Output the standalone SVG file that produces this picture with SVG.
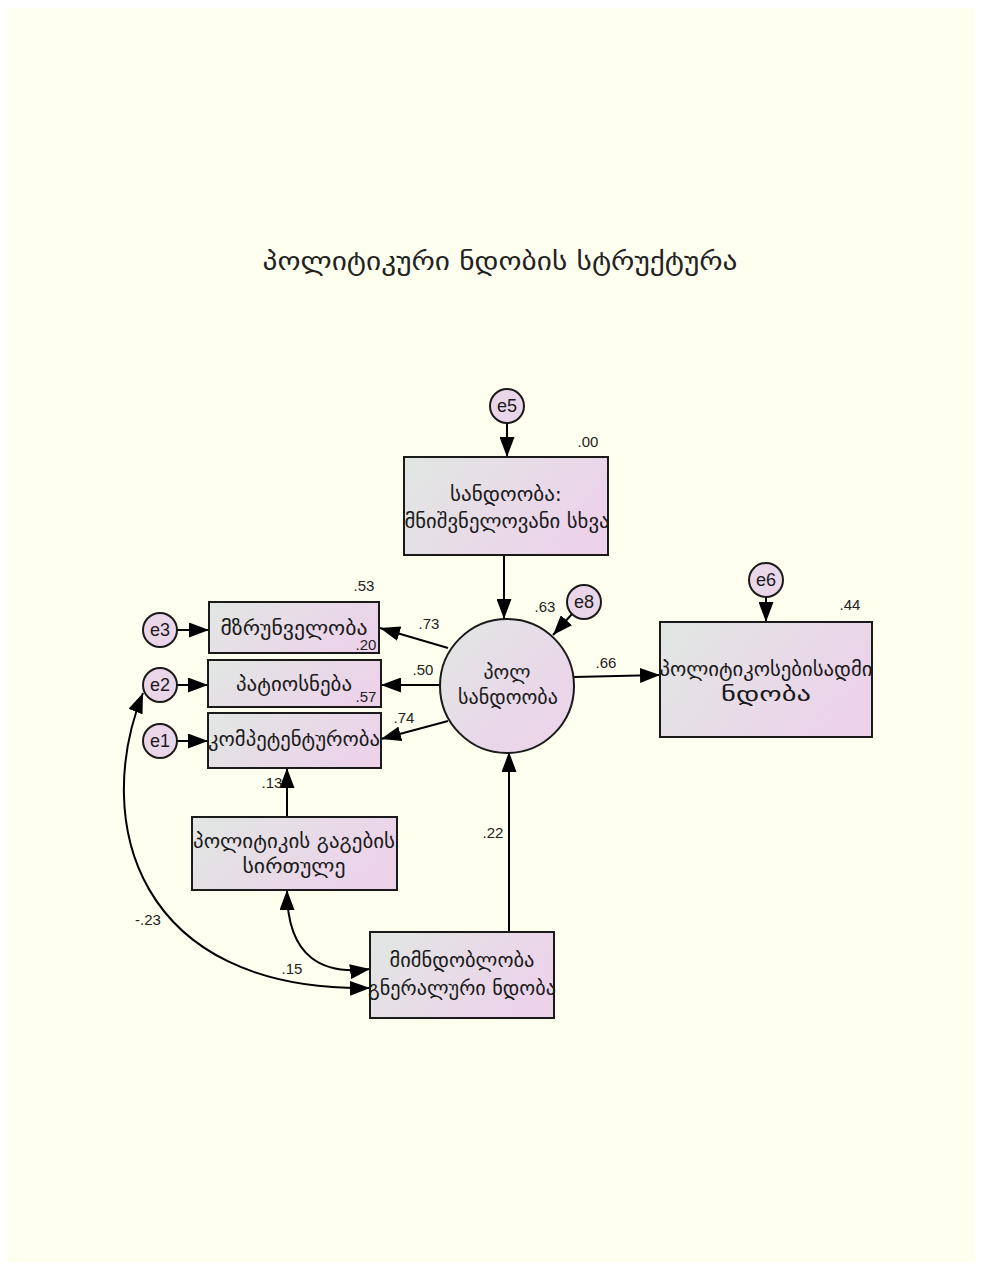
<svg xmlns="http://www.w3.org/2000/svg" width="982" height="1269" viewBox="0 0 982 1269">
<style>
.bg{fill:#FFFFF0}
.box{stroke:#1a1a1a;stroke-width:2;fill:url(#g)}
.lat{stroke:#1a1a1a;stroke-width:2;fill:url(#gc)}
.err{stroke:#1a1a1a;stroke-width:2;fill:#EAD6E9}
.ln{stroke:#000;stroke-width:2;fill:none}
.t{font-family:"DejaVu Sans",sans-serif;font-size:19px;fill:#1a1a1a;text-anchor:middle}
.e{font-family:"Liberation Sans",Arial,sans-serif;font-size:18px;fill:#1a1a1a;text-anchor:middle}
.n{font-family:"Liberation Sans",Arial,sans-serif;font-size:15px;fill:#222;text-anchor:middle}
.title{font-family:"DejaVu Sans",sans-serif;font-size:25px;fill:#222;text-anchor:middle}
</style>
<defs>
<linearGradient id="g" x1="0" y1="0" x2="1" y2="0.4">
<stop offset="0" stop-color="#E1E7E3"/>
<stop offset="1" stop-color="#ECD3EA"/>
</linearGradient>
<linearGradient id="gc" x1="0" y1="0" x2="1" y2="1">
<stop offset="0" stop-color="#E1E7E3"/>
<stop offset="0.7" stop-color="#EAD6E9"/>
<stop offset="1" stop-color="#ECD3EA"/>
</linearGradient>
<marker id="a" markerUnits="userSpaceOnUse" markerWidth="21" markerHeight="15" refX="20" refY="7.5" orient="auto-start-reverse">
<path d="M0,0 L20,7.5 L0,15 z" fill="#000"/>
</marker>
</defs>
<rect x="0" y="0" width="982" height="1269" fill="#fff"/>
<rect class="bg" x="8" y="8" width="967" height="1254"/>
<text class="title" x="500" y="270" textLength="475" lengthAdjust="spacingAndGlyphs">პოლიტიკური ნდობის სტრუქტურა</text>

<g id="connectors">
<line class="ln" x1="507" y1="423" x2="507" y2="457" marker-end="url(#a)"/>
<line class="ln" x1="504" y1="555" x2="504" y2="619" marker-end="url(#a)"/>
<line class="ln" x1="572" y1="614" x2="553" y2="635" marker-end="url(#a)"/>
<line class="ln" x1="766" y1="597" x2="766" y2="622" marker-end="url(#a)"/>
<line class="ln" x1="574" y1="677" x2="660" y2="675" marker-end="url(#a)"/>
<line class="ln" x1="448" y1="648" x2="380" y2="628" marker-end="url(#a)"/>
<line class="ln" x1="440" y1="685" x2="381" y2="685" marker-end="url(#a)"/>
<line class="ln" x1="448" y1="721" x2="381" y2="739" marker-end="url(#a)"/>
<line class="ln" x1="177" y1="630" x2="209" y2="630" marker-end="url(#a)"/>
<line class="ln" x1="177" y1="685" x2="208" y2="685" marker-end="url(#a)"/>
<line class="ln" x1="177" y1="741" x2="208" y2="741" marker-end="url(#a)"/>
<line class="ln" x1="287" y1="817" x2="287" y2="768" marker-end="url(#a)"/>
<line class="ln" x1="509" y1="932" x2="509" y2="752" marker-end="url(#a)"/>
<path class="ln" d="M287,890 C287,960 325,975 370,969" marker-start="url(#a)" marker-end="url(#a)"/>
<path class="ln" d="M143,693 C92,820 135,992 370,988" marker-start="url(#a)" marker-end="url(#a)"/>
</g>

<g id="e5"><circle class="err" cx="507" cy="406" r="17"/><text class="e" x="507" y="412">e5</text></g>
<g id="sandooba"><rect class="box" x="404" y="457" width="204" height="98"/>
<text class="t" x="506" y="501" textLength="112" lengthAdjust="spacingAndGlyphs">სანდოობა:</text><text class="t" x="507" y="528" textLength="205" lengthAdjust="spacingAndGlyphs">მნიშვნელოვანი სხვა</text>
<text class="n" x="588" y="447">.00</text></g>

<g id="pol"><circle class="lat" cx="507" cy="686" r="67"/>
<text class="t" x="507" y="679" textLength="47" lengthAdjust="spacingAndGlyphs">პოლ</text><text class="t" x="508" y="704" textLength="100" lengthAdjust="spacingAndGlyphs">სანდოობა</text>
<text class="n" x="545" y="612">.63</text></g>

<g id="e8"><circle class="err" cx="584" cy="602" r="17"/><text class="e" x="584" y="608">e8</text></g>
<g id="e6"><circle class="err" cx="766" cy="580" r="17"/><text class="e" x="766" y="586">e6</text></g>

<g id="politikosebi"><rect class="box" x="660" y="622" width="212" height="115"/>
<text class="t" x="766" y="676" textLength="213" lengthAdjust="spacingAndGlyphs">პოლიტიკოსებისადმი</text><text class="t" x="766" y="701" textLength="90" lengthAdjust="spacingAndGlyphs">ნდობა</text>
<text class="n" x="850" y="610">.44</text><text class="n" x="606" y="668">.66</text></g>

<g id="mzrunveloba"><rect class="box" x="209" y="602" width="170" height="51"/>
<text class="t" x="294" y="635" textLength="147" lengthAdjust="spacingAndGlyphs">მზრუნველობა</text>
<text class="n" x="364" y="591">.53</text><text class="n" x="366" y="650">.20</text><text class="n" x="429" y="629">.73</text></g>

<g id="patiosneba"><rect class="box" x="208" y="660" width="173" height="47"/>
<text class="t" x="294" y="691" textLength="116" lengthAdjust="spacingAndGlyphs">პატიოსნება</text>
<text class="n" x="366" y="702">.57</text><text class="n" x="423" y="675">.50</text></g>

<g id="kompetentuloba"><rect class="box" x="208" y="713" width="173" height="55"/>
<text class="t" x="294" y="746" textLength="172" lengthAdjust="spacingAndGlyphs">კომპეტენტურობა</text>
<text class="n" x="404" y="723">.74</text></g>

<g id="e3"><circle class="err" cx="160" cy="630" r="17"/><text class="e" x="160" y="636">e3</text></g>
<g id="e2"><circle class="err" cx="160" cy="685" r="17"/><text class="e" x="160" y="691">e2</text></g>
<g id="e1"><circle class="err" cx="160" cy="741" r="17"/><text class="e" x="160" y="747">e1</text></g>

<g id="sirtule"><rect class="box" x="192" y="817" width="205" height="73"/>
<text class="t" x="294" y="848" textLength="202" lengthAdjust="spacingAndGlyphs">პოლიტიკის გაგების</text><text class="t" x="294" y="873" textLength="103" lengthAdjust="spacingAndGlyphs">სირთულე</text>
<text class="n" x="272" y="788">.13</text></g>

<g id="generaluri"><rect class="box" x="370" y="932" width="184" height="86"/>
<text class="t" x="462" y="967" textLength="145" lengthAdjust="spacingAndGlyphs">მიმნდობლობა</text><text class="t" x="462" y="995" textLength="188" lengthAdjust="spacingAndGlyphs">გნერალური ნდობა</text>
<text class="n" x="493" y="838">.22</text><text class="n" x="292" y="974">.15</text><text class="n" x="148" y="925">-.23</text></g>
</svg>
